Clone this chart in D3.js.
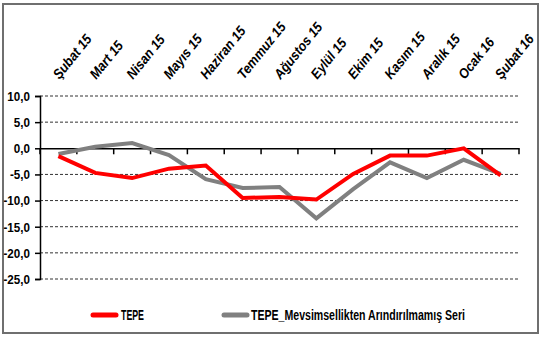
<!DOCTYPE html>
<html><head><meta charset="utf-8">
<script src="https://cdn.jsdelivr.net/npm/d3@7"></script>
<style>
body{margin:0;background:#fff;}
text{font-family:"Liberation Sans",Arial,sans-serif;font-weight:bold;fill:#000;}
</style></head><body>
<svg id="c" width="549" height="343"></svg>
<script>
const categories = ["Şubat 15","Mart 15","Nisan 15","Mayıs 15","Haziran 15","Temmuz 15","Ağustos 15","Eylül 15","Ekim 15","Kasım 15","Aralık 15","Ocak 16","Şubat 16"];
const tepe = [-1.5,-4.7,-5.7,-3.9,-3.3,-9.5,-9.3,-9.8,-4.9,-1.4,-1.4,0.0,-5.2];
const tepeRaw = [-1.1,0.3,1.0,-1.3,-5.9,-7.6,-7.4,-13.4,-7.8,-2.7,-5.7,-2.2,-4.9];
const yTicks = [10,5,0,-5,-10,-15,-20,-25];
const seriesNames = ["TEPE","TEPE_Mevsimsellikten Arındırılmamış Seri"];
const colors = ["#ff0000","#808080"];

function condense(sel,f){
  sel.each(function(){const w=this.getComputedTextLength();
    d3.select(this).attr("textLength",w*f).attr("lengthAdjust","spacingAndGlyphs");});
}

const svg = d3.select("#c");
svg.append("rect").attr("x",3).attr("y",4).attr("width",535).attr("height",329)
  .attr("fill","#fff").attr("stroke","#6f6f6f").attr("stroke-width",2);

const L=40,R=519,T=96,B=279;
const x = d3.scaleBand().domain(categories).range([L,R]);
const y = d3.scaleLinear().domain([-25,10]).range([B,T]);

// gridlines
svg.append("g").selectAll("line").data(yTicks.filter(d=>d!==0)).join("line")
  .attr("x1",L).attr("x2",R).attr("y1",d=>y(d)).attr("y2",d=>y(d))
  .attr("stroke","#333").attr("stroke-width",1).attr("stroke-dasharray","3,2");

// y axis
const ya = svg.append("g").attr("transform",`translate(${L},0)`)
  .call(d3.axisLeft(y).tickValues(yTicks).tickSize(5).tickFormat(d=>d3.format(".1f")(d).replace(".",",").replace("−","-")));
ya.select(".domain").attr("stroke","#000").attr("stroke-width",1.5);
ya.selectAll(".tick line").attr("stroke","#000").attr("stroke-width",1.5);
ya.selectAll("text").attr("font-size",12.5).attr("x",-10).attr("dy","0.35em").call(condense,0.93);

// x axis at zero
const xa = svg.append("g").attr("transform",`translate(0,${y(0)})`)
  .call(d3.axisBottom(x).tickSize(0).tickFormat(""));
xa.select(".domain").attr("stroke","#000").attr("stroke-width",1.5);
svg.append("g").selectAll("line").data(d3.range(categories.length+1)).join("line")
  .attr("x1",i=>L+i*x.step()).attr("x2",i=>L+i*x.step())
  .attr("y1",y(0)).attr("y2",y(0)+6).attr("stroke","#000").attr("stroke-width",1.5);

// category labels on top
svg.append("g").selectAll("text").data(categories).join("text")
  .attr("transform",d=>`translate(${x(d)+x.bandwidth()/2+1},${80}) rotate(-51)`)
  .attr("font-size",14).attr("font-style","italic").text(d=>d).call(condense,0.9);

const line = d3.line().x((d,i)=>x(categories[i])+x.bandwidth()/2).y(d=>y(d));
[tepeRaw,tepe].forEach((s,k)=>{
  const c = k===0?colors[1]:colors[0];
  svg.append("path").datum(s).attr("d",line).attr("fill","none")
    .attr("stroke",c).attr("stroke-width",4).attr("stroke-linejoin","miter");
});

// legend
const lg=[{x:93,tx:121,w:23},{x:224,tx:251,w:214}];
seriesNames.forEach((n,i)=>{
  svg.append("line").attr("x1",lg[i].x).attr("x2",lg[i].x+23).attr("y1",315).attr("y2",315)
    .attr("stroke",colors[i]).attr("stroke-width",5).attr("stroke-linecap","round");
  svg.append("text").attr("x",lg[i].tx).attr("y",315).attr("dy","0.35em").attr("font-size",14)
    .attr("textLength",lg[i].w).attr("lengthAdjust","spacingAndGlyphs").text(n);
});
</script></body></html>
